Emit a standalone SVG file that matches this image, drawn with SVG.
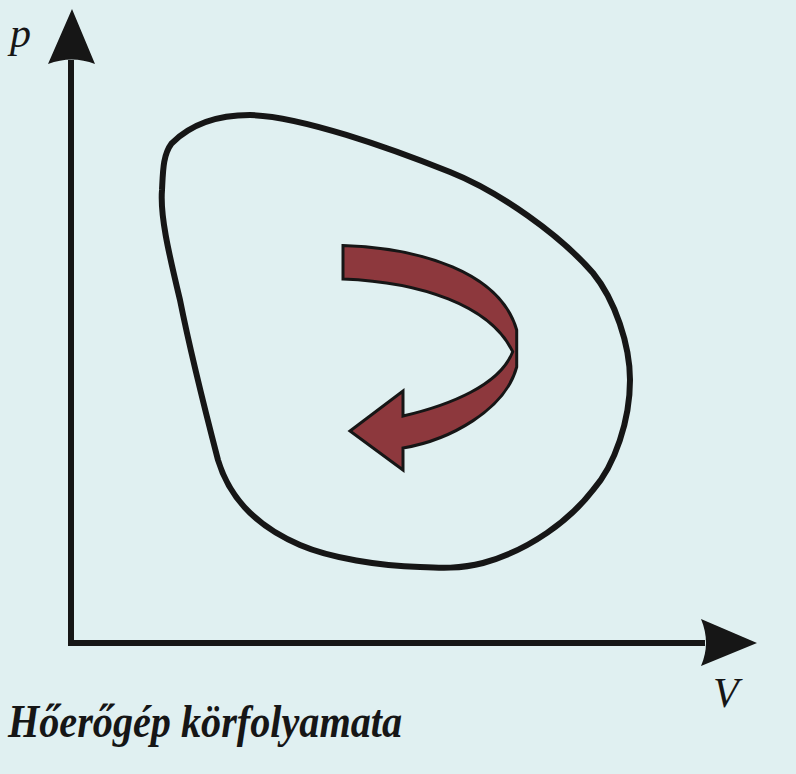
<svg xmlns="http://www.w3.org/2000/svg" width="796" height="774" viewBox="0 0 796 774">
<style>
.ax{stroke:#161616;stroke-width:6;fill:none}
.head{fill:#161616}
.lbl{font-family:"Liberation Serif",serif;font-style:italic;fill:#161616}
</style>
<rect width="796" height="774" fill="#e0f0f1"/>
<g id="axes">
<line class="ax" x1="71" y1="60" x2="71" y2="643"/>
<line class="ax" x1="68" y1="643" x2="705" y2="643"/>
<path class="head" d="M72,9 L95,64 Q72,55 48,64 Z"/>
<path class="head" d="M757,643 L701,666 Q711,643 701,619 Z"/>
</g>
<g id="cycle">
<path d="M171.7,143.3 C 190,125 215,115 250,115 C 300,116 390,148 450,172 C 500,192 560,235 593,273 C 615,300 630,345 630,380 C 630,420 615,465 593,490 C 570,520 530,550 483,563 C 460,569 440,568 420,567 C 380,566 330,558 300,545 C 260,528 230,500 218,460 C 205,410 190,350 180,300 C 168,250 160,215 162,190 C 163,170 163,155 171.7,143.3 Z" fill="none" stroke="#161616" stroke-width="6"/>
</g>
<g id="arrow">
<path d="M343,245.5 C 420,248 500,272 516.7,330 L516.7,367 C 505,410 450,440 403,448 L403,470 L350,431 L403,391 L403,416 C 450,405 500,385 512.7,351.7 C 490,305 420,282 343,279 Z" fill="#8d383d" stroke="#161616" stroke-width="3" stroke-linejoin="miter"/>
</g>
<g id="labels">
<text class="lbl" x="10" y="47" font-size="42">p</text>
<text class="lbl" x="713" y="707" font-size="42">V</text>
<text class="lbl" x="8" y="737" font-size="46" font-weight="bold" textLength="394" lengthAdjust="spacingAndGlyphs">Hőerőgép körfolyamata</text>
</g>
</svg>
